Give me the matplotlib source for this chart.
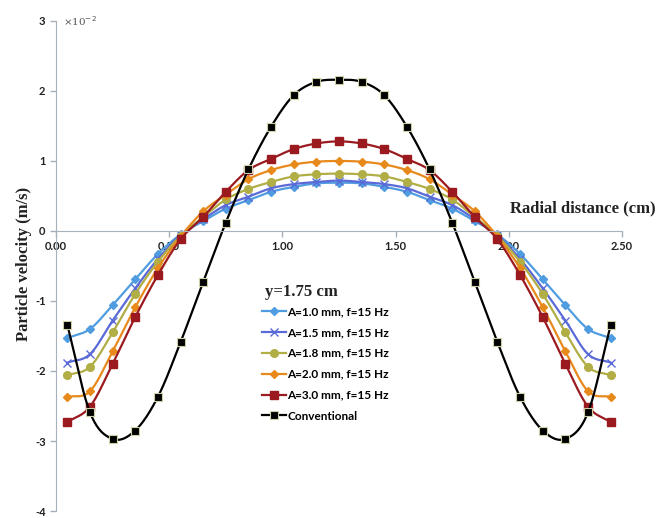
import numpy as np
import matplotlib
matplotlib.use('Agg')
import matplotlib.pyplot as plt
from matplotlib.ticker import FuncFormatter

# radial positions (cm)
x = [0.05, 0.15, 0.25, 0.35, 0.45, 0.55, 0.65, 0.75, 0.85, 0.95, 1.05, 1.15, 1.25,
     1.35, 1.45, 1.55, 1.65, 1.75, 1.85, 1.95, 2.05, 2.15, 2.25, 2.35, 2.45]

# particle velocity (x10^-2 m/s)
a10 = [-1.53, -1.40, -1.06, -0.69, -0.33, -0.05, 0.14, 0.32, 0.44, 0.56, 0.63, 0.68, 0.69,
       0.68, 0.63, 0.56, 0.44, 0.32, 0.14, -0.05, -0.33, -0.69, -1.06, -1.40, -1.53]
a15 = [-1.88, -1.76, -1.28, -0.82, -0.40, -0.06, 0.17, 0.37, 0.49, 0.61, 0.67, 0.70, 0.72,
       0.70, 0.67, 0.61, 0.49, 0.37, 0.17, -0.06, -0.40, -0.82, -1.28, -1.76, -1.88]
a18 = [-2.06, -1.94, -1.45, -0.90, -0.44, -0.07, 0.20, 0.45, 0.60, 0.70, 0.78, 0.81, 0.82,
       0.81, 0.78, 0.70, 0.60, 0.45, 0.20, -0.07, -0.44, -0.90, -1.45, -1.94, -2.06]
a20 = [-2.37, -2.29, -1.72, -1.09, -0.53, -0.08, 0.28, 0.52, 0.74, 0.87, 0.95, 0.99, 1.00,
       0.99, 0.95, 0.87, 0.74, 0.52, 0.28, -0.08, -0.53, -1.09, -1.72, -2.29, -2.37]
a30 = [-2.73, -2.51, -1.90, -1.23, -0.63, -0.12, 0.20, 0.56, 0.87, 1.03, 1.17, 1.25, 1.28,
       1.25, 1.17, 1.03, 0.87, 0.56, 0.20, -0.12, -0.63, -1.23, -1.90, -2.51, -2.73]
conv = [-1.34, -2.59, -2.97, -2.85, -2.37, -1.59, -0.73, 0.12, 0.88, 1.49, 1.94, 2.13, 2.16,
        2.13, 1.94, 1.49, 0.88, 0.12, -0.73, -1.59, -2.37, -2.85, -2.97, -2.59, -1.34]

labels = ['A=1.0 mm, f=15 Hz', 'A=1.5 mm, f=15 Hz', 'A=1.8 mm, f=15 Hz',
          'A=2.0 mm, f=15 Hz', 'A=3.0 mm, f=15 Hz', 'Conventional']

N = 20  # points per segment for the smoothed line


def smooth(xv, yv, n=N):
    # catmull-rom curve through the points, like excel's smoothed line
    P = np.column_stack([xv, yv]).astype(float)
    P = np.vstack([2 * P[0] - P[1], P, 2 * P[-1] - P[-2]])
    out = []
    t = np.linspace(0, 1, n, endpoint=False)[:, None]
    for i in range(1, len(P) - 2):
        p0, p1, p2, p3 = P[i - 1], P[i], P[i + 1], P[i + 2]
        seg = 0.5 * (2 * p1 + (-p0 + p2) * t + (2 * p0 - 5 * p1 + 4 * p2 - p3) * t ** 2
                     + (-p0 + 3 * p1 - 3 * p2 + p3) * t ** 3)
        out.append(seg)
    out.append(P[-2][None, :])
    out = np.vstack(out)
    return out[:, 0], out[:, 1]


fig = plt.figure(figsize=(6.61, 5.18), dpi=100)
ax = fig.add_axes([0.0847, 0.0135, 0.8563, 0.946])

styles = [
    dict(color='#4F9DE0', marker='D', ms=4, mec='#4F9DE0'),
    dict(color='#5A6AD6', marker='x', ms=6, mew=1.0),
    dict(color='#B0AE45', marker='o', ms=5.5, mec='#B0AE45'),
    dict(color='#E8891C', marker='D', ms=4, mec='#E8891C'),
    dict(color='#9A1A20', marker='s', ms=5.5, mec='#9A1A20'),
    dict(color='black', marker='s', ms=5.5, mec='#CFCFA6', mew=0.8),
]

for yv, lab, st in zip([a10, a15, a18, a20, a30, conv], labels, styles):
    sx, sy = smooth(x, yv)
    ax.plot(sx, sy, lw=1.6, markevery=slice(0, None, N), label=lab, **st)

ax.set_xlim(0, 2.5)
ax.set_ylim(-4, 3)
ax.set_xticks(np.arange(0, 2.51, 0.5))
ax.set_yticks(range(-4, 4))
ax.xaxis.set_major_formatter(FuncFormatter(lambda v, p: '%.2f' % v))
ax.yaxis.set_major_formatter(FuncFormatter(lambda v, p: '%d' % v))

spc = '#A7B1BB'
for s in ['top', 'right']:
    ax.spines[s].set_visible(False)
ax.spines['bottom'].set_position(('data', 0))
ax.spines['left'].set_color(spc)
ax.spines['bottom'].set_color(spc)
ax.tick_params(axis='both', colors=spc, length=4, width=1, direction='out')
ax.tick_params(axis='x', pad=3)
for lbl in ax.get_xticklabels() + ax.get_yticklabels():
    lbl.set_fontfamily('Lato')
    lbl.set_fontweight('bold')
    lbl.set_fontsize(8)
    lbl.set_color('#222222')

ax.text(0.03, 3.0, r'×10$^{-2}$', fontsize=7.5, color='#555555', family='DejaVu Serif',
        va='center', ha='left')

ax.set_ylabel('Particle velocity (m/s)', family='Liberation Serif', fontweight='bold',
              fontsize=12, color='#222222')
ax.yaxis.set_label_coords(-0.043, 0.505)

fig.text(0.992, 1 - 208 / 518, 'Radial distance (cm)', family='Liberation Serif',
         fontweight='bold', fontsize=12, color='#222222', ha='right', va='center')

fig.text(265 / 661, 1 - 292 / 518, 'y=1.75 cm', family='Liberation Serif',
         fontweight='bold', fontsize=12, color='#222222', ha='left', va='center')

leg = ax.legend(loc='upper left', bbox_to_anchor=(262 / 661, 1 - 306 / 518),
                bbox_transform=fig.transFigure, frameon=False,
                prop=dict(family='Lato', weight='bold', size=8.5),
                handlelength=2.0, handletextpad=0.15, labelspacing=0.84,
                borderaxespad=0, borderpad=0)

fig.savefig('out.png', dpi=100)
